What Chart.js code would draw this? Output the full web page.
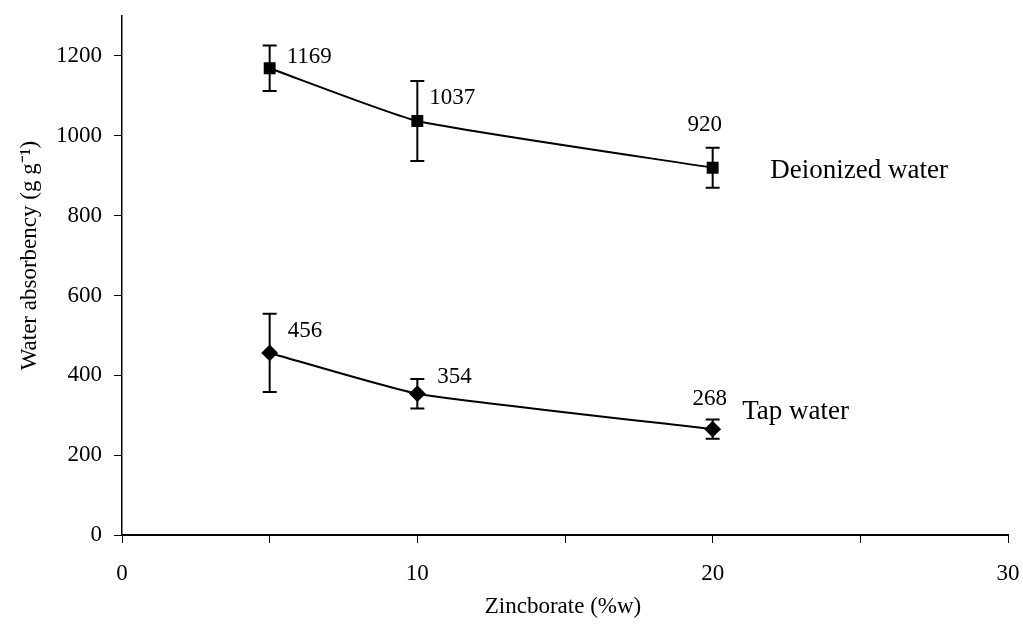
<!DOCTYPE html>
<html>
<head>
<meta charset="utf-8">
<script src="https://cdn.jsdelivr.net/npm/chart.js@4.4.0/dist/chart.umd.min.js"></script>
<style>
  html, body { margin: 0; padding: 0; background: #fff; }
  #wrap { width: 1023px; height: 627px; }
</style>
</head>
<body>
<div id="wrap"><canvas id="myChart"></canvas></div>
<script>
// data
const zincborate = [5, 10, 20];
const deionized = [1169, 1037, 920];
const deionizedErr = [57, 100, 50];
const tapWater = [456, 354, 265];
const tapWaterErr = [98, 37, 24];
const deionizedLabels = ['1169', '1037', '920'];
const tapWaterLabels = ['456', '354', '268'];
const yTicks = [0, 200, 400, 600, 800, 1000, 1200];
const xTicks = [0, 10, 20, 30];

// label offsets in px from the point
const deionizedOffsets = [[17, -11, 'left'], [12, -23, 'left'], [-8, -43, 'center']];
const tapOffsets = [[18, -22, 'left'], [20, -17, 'left'], [-3, -30, 'center']];

const font = "'Liberation Serif', 'Times New Roman', serif";

function toPoints(xs, ys) {
  return xs.map((x, i) => ({ x: x, y: ys[i] }));
}

// error bars, value labels, series names and axis titles
const extras = {
  id: 'extras',
  afterDatasetsDraw(chart) {
    const ctx = chart.ctx;
    const xs = chart.scales.x, ys = chart.scales.y;
    const errs = [deionizedErr, tapWaterErr];
    const labels = [deionizedLabels, tapWaterLabels];
    const offs = [deionizedOffsets, tapOffsets];
    ctx.save();
    ctx.strokeStyle = '#000';
    ctx.lineWidth = 2;
    chart.data.datasets.forEach((ds, d) => {
      ds.data.forEach((p, i) => {
        const px = xs.getPixelForValue(p.x);
        const top = ys.getPixelForValue(p.y + errs[d][i]);
        const bot = ys.getPixelForValue(p.y - errs[d][i]);
        ctx.beginPath();
        ctx.moveTo(px, top); ctx.lineTo(px, bot);
        ctx.moveTo(px - 7, top); ctx.lineTo(px + 7, top);
        ctx.moveTo(px - 7, bot); ctx.lineTo(px + 7, bot);
        ctx.stroke();

        const py = ys.getPixelForValue(p.y);
        const o = offs[d][i];
        ctx.fillStyle = '#000';
        ctx.font = '23px ' + font;
        ctx.textAlign = o[2];
        ctx.textBaseline = 'middle';
        ctx.fillText(labels[d][i], px + o[0], py + o[1]);
      });
    });
    ctx.fillStyle = '#000';
    ctx.font = '27px ' + font;
    ctx.textAlign = 'left';
    ctx.textBaseline = 'middle';
    ctx.fillText('Deionized water', xs.getPixelForValue(21.95), ys.getPixelForValue(912));
    ctx.fillText('Tap water', xs.getPixelForValue(21.0), ys.getPixelForValue(308));

    // axis titles
    ctx.font = '23px ' + font;
    ctx.textAlign = 'center';
    ctx.fillText('Zincborate (%w)', (xs.left + xs.right) / 2 - 2, 607);
    ctx.translate(30, ys.getPixelForValue(700));
    ctx.rotate(-Math.PI / 2);
    ctx.fillText('Water absorbency (g g\u207B\u00B9)', 0, 0);
    ctx.restore();
  }
};

var ctx = document.getElementById('myChart').getContext('2d');

var myChart = new Chart(ctx, {
  type: 'line',
  data: {
    datasets: [{
      label: 'Deionized water',
      data: toPoints(zincborate, deionized),
      borderColor: '#000',
      backgroundColor: '#000',
      borderWidth: 2,
      tension: 0.15,
      pointStyle: 'rect',
      pointRadius: 7,
      pointHoverRadius: 7
    }, {
      label: 'Tap water',
      data: toPoints(zincborate, tapWater),
      borderColor: '#000',
      backgroundColor: '#000',
      borderWidth: 2,
      tension: 0.15,
      pointStyle: 'rectRot',
      pointRadius: 7,
      pointHoverRadius: 7
    }]
  },
  options: {
    responsive: true,
    maintainAspectRatio: false,
    animation: false,
    layout: { padding: { top: 16, right: 15, left: 0, bottom: 0 } },
    plugins: {
      legend: { display: false },
      tooltip: { enabled: false }
    },
    scales: {
      x: {
        type: 'linear',
        min: 0,
        max: 30,
        afterBuildTicks: axis => {
          axis.ticks = [0, 5, 10, 15, 20, 25, 30].map(v => ({ value: v }));
        },
        afterFit: axis => {
          axis.height = 92;
          axis.paddingLeft = 0;
          axis.paddingRight = 0;
        },
        grid: {
          drawOnChartArea: false,
          color: '#000',
          tickLength: 8,
          tickColor: '#000'
        },
        border: { color: '#000', width: 2 },
        ticks: {
          color: '#000',
          padding: 17,
          font: { family: font, size: 23 },
          callback: v => xTicks.includes(v) ? String(v) : ''
        }
      },
      y: {
        min: 0,
        max: 1300,
        afterBuildTicks: axis => {
          axis.ticks = yTicks.map(v => ({ value: v }));
        },
        afterFit: axis => {
          axis.width = 122;
          axis.paddingTop = 0;
          axis.paddingBottom = 0;
        },
        grid: {
          drawOnChartArea: false,
          color: '#000',
          tickLength: 8,
          tickColor: '#000'
        },
        border: { color: '#000', width: 1.5 },
        ticks: {
          color: '#000',
          padding: 12,
          font: { family: font, size: 23 },
          callback: v => String(v)
        }
      }
    }
  },
  plugins: [extras]
});
</script>
</body>
</html>
